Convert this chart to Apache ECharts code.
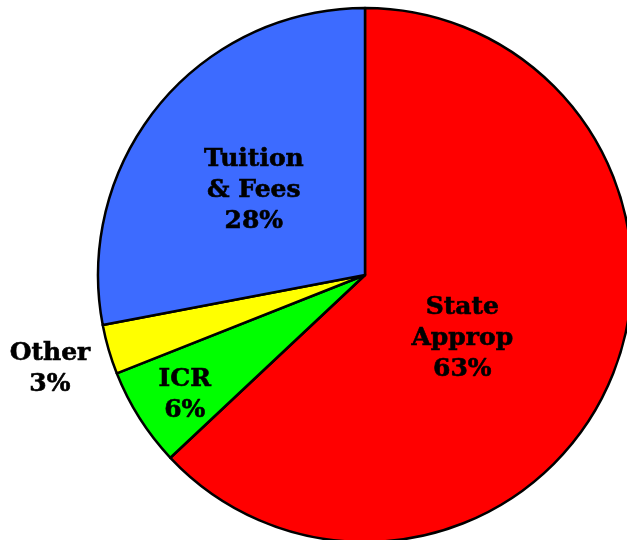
<!DOCTYPE html>
<html>
<head>
<meta charset="utf-8">
<script src="https://cdn.jsdelivr.net/npm/echarts@6/dist/echarts.min.js"></script>
<style>
  html, body { margin: 0; padding: 0; background: #fff; }
  #chart { width: 627px; height: 540px; }
</style>
</head>
<body>
<div id="chart"></div>
<script>
// pie slices, clockwise from 12 o'clock
var names = ['State\nApprop', 'ICR', 'Other', 'Tuition\n& Fees'];
var values = [63, 6, 3, 28];
var colors = ['#ff0000', '#00ff00', '#ffff00', '#3d6bff'];
// nudge each label from the default inside spot
var labelShift = [[-28, 9], [-65, 47], [-184, 56], [-6, 3]];

var data = [];
for (var i = 0; i < names.length; i++) {
    data.push({
        name: names[i],
        value: values[i],
        itemStyle: { color: colors[i] }
    });
}

var myChart = echarts.init(document.getElementById('chart'));
myChart.setOption({
    animation: false,
    series: [{
        type: 'pie',
        center: [365, 275],
        radius: 267,
        startAngle: 90,
        clockwise: true,
        data: data,
        itemStyle: {
            borderColor: '#000',
            borderWidth: 2.5
        },
        label: {
            show: true,
            position: 'inside',
            rotate: 0,
            formatter: function (p) { return p.name + '\n' + p.value + '%'; },
            fontFamily: 'DejaVu Serif',
            fontWeight: 'bold',
            fontSize: 25,
            lineHeight: 31,
            color: '#000',
            textBorderColor: '#000',
            textBorderWidth: 0.6,
            align: 'center'
        },
        labelLine: { show: false },
        labelLayout: function (p) {
            return { dx: labelShift[p.dataIndex][0], dy: labelShift[p.dataIndex][1] };
        }
    }]
});
</script>
</body>
</html>
